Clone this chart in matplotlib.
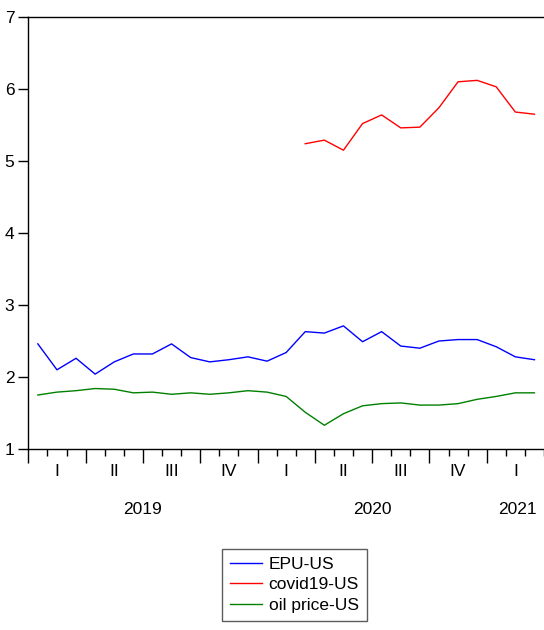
import matplotlib
matplotlib.use("Agg")
import matplotlib.pyplot as plt
from matplotlib.lines import Line2D

# monthly data, Jan 2019 .. Mar 2021
epu = [2.46, 2.10, 2.26, 2.04, 2.21, 2.32, 2.32, 2.46, 2.27, 2.21, 2.24, 2.28, 2.22,
       2.34, 2.63, 2.61, 2.71, 2.49, 2.63, 2.43, 2.40, 2.50, 2.52, 2.52, 2.42, 2.28, 2.24]
oil = [1.75, 1.79, 1.81, 1.84, 1.83, 1.78, 1.79, 1.76, 1.78, 1.76, 1.78, 1.81, 1.79,
       1.73, 1.51, 1.33, 1.49, 1.60, 1.63, 1.64, 1.61, 1.61, 1.63, 1.69, 1.73, 1.78, 1.78]
# covid series starts Mar 2020
covid_start = 14
covid = [5.24, 5.29, 5.15, 5.52, 5.64, 5.46, 5.47, 5.74, 6.10, 6.12, 6.03, 5.68, 5.65]

quarters = ["I", "II", "III", "IV", "I", "II", "III", "IV", "I"]
years = ["2019", "2020", "2021"]
year_pos = [6, 18, 25.6]

W, H = 544, 630
FONT = ["Liberation Sans Narrow", "Liberation Sans", "DejaVu Sans"]
plt.rcParams["font.family"] = FONT
FS = 12.5

fig = plt.figure(figsize=(W / 100, H / 100), dpi=100)
left, right, top, bottom = 28.3, 544, 17, 449
ax = fig.add_axes([left / W, 1 - bottom / H, (right - left) / W, (bottom - top) / H])

x = [i + 0.5 for i in range(len(epu))]
xc = [covid_start + i + 0.5 for i in range(len(covid))]
ax.plot(x, epu, color="#0000ff", lw=1.0, label="EPU-US")
ax.plot(xc, covid, color="#ff0000", lw=1.0, label="covid19-US")
ax.plot(x, oil, color="#008000", lw=1.0, label="oil price-US")

ax.set_xlim(0, (right - left) / 19.17)
ax.set_ylim(1, 7)
ax.set_yticks(range(1, 8))
ax.tick_params(axis="y", length=7, width=1, pad=3, labelsize=FS)
ax.set_xticks(range(0, 27, 3))
ax.set_xticks(range(0, 28), minor=True)
ax.set_xticklabels([])
ax.tick_params(axis="x", which="major", length=10, width=1)
ax.tick_params(axis="x", which="minor", length=5, width=1)
ax.spines["right"].set_visible(False)
for s in ["left", "bottom", "top"]:
    ax.spines[s].set_linewidth(1.0)

trans = ax.get_xaxis_transform()
qy = -(471 - bottom) / (bottom - top)
yy = -(509 - bottom) / (bottom - top)
for i, q in enumerate(quarters):
    ax.text(i * 3 + 1.5, qy, q, transform=trans, ha="center", va="center", fontsize=FS)
for p, yl in zip(year_pos, years):
    ax.text(p, yy, yl, transform=trans, ha="center", va="center", fontsize=FS)

handles = [Line2D([], [], color=c, lw=1.0) for c in ["#0000ff", "#ff0000", "#008000"]]
leg = fig.legend(handles, ["EPU-US", "covid19-US", "oil price-US"],
                 loc="upper left", bbox_to_anchor=(221.7 / W, 1 - 549 / H),
                 frameon=True, fancybox=False, edgecolor="#333333",
                 fontsize=FS, handlelength=1.85, handletextpad=0.4,
                 labelspacing=0.3, borderpad=0.45, borderaxespad=0)
leg.get_frame().set_linewidth(1.0)

fig.savefig("out.png", dpi=100)
